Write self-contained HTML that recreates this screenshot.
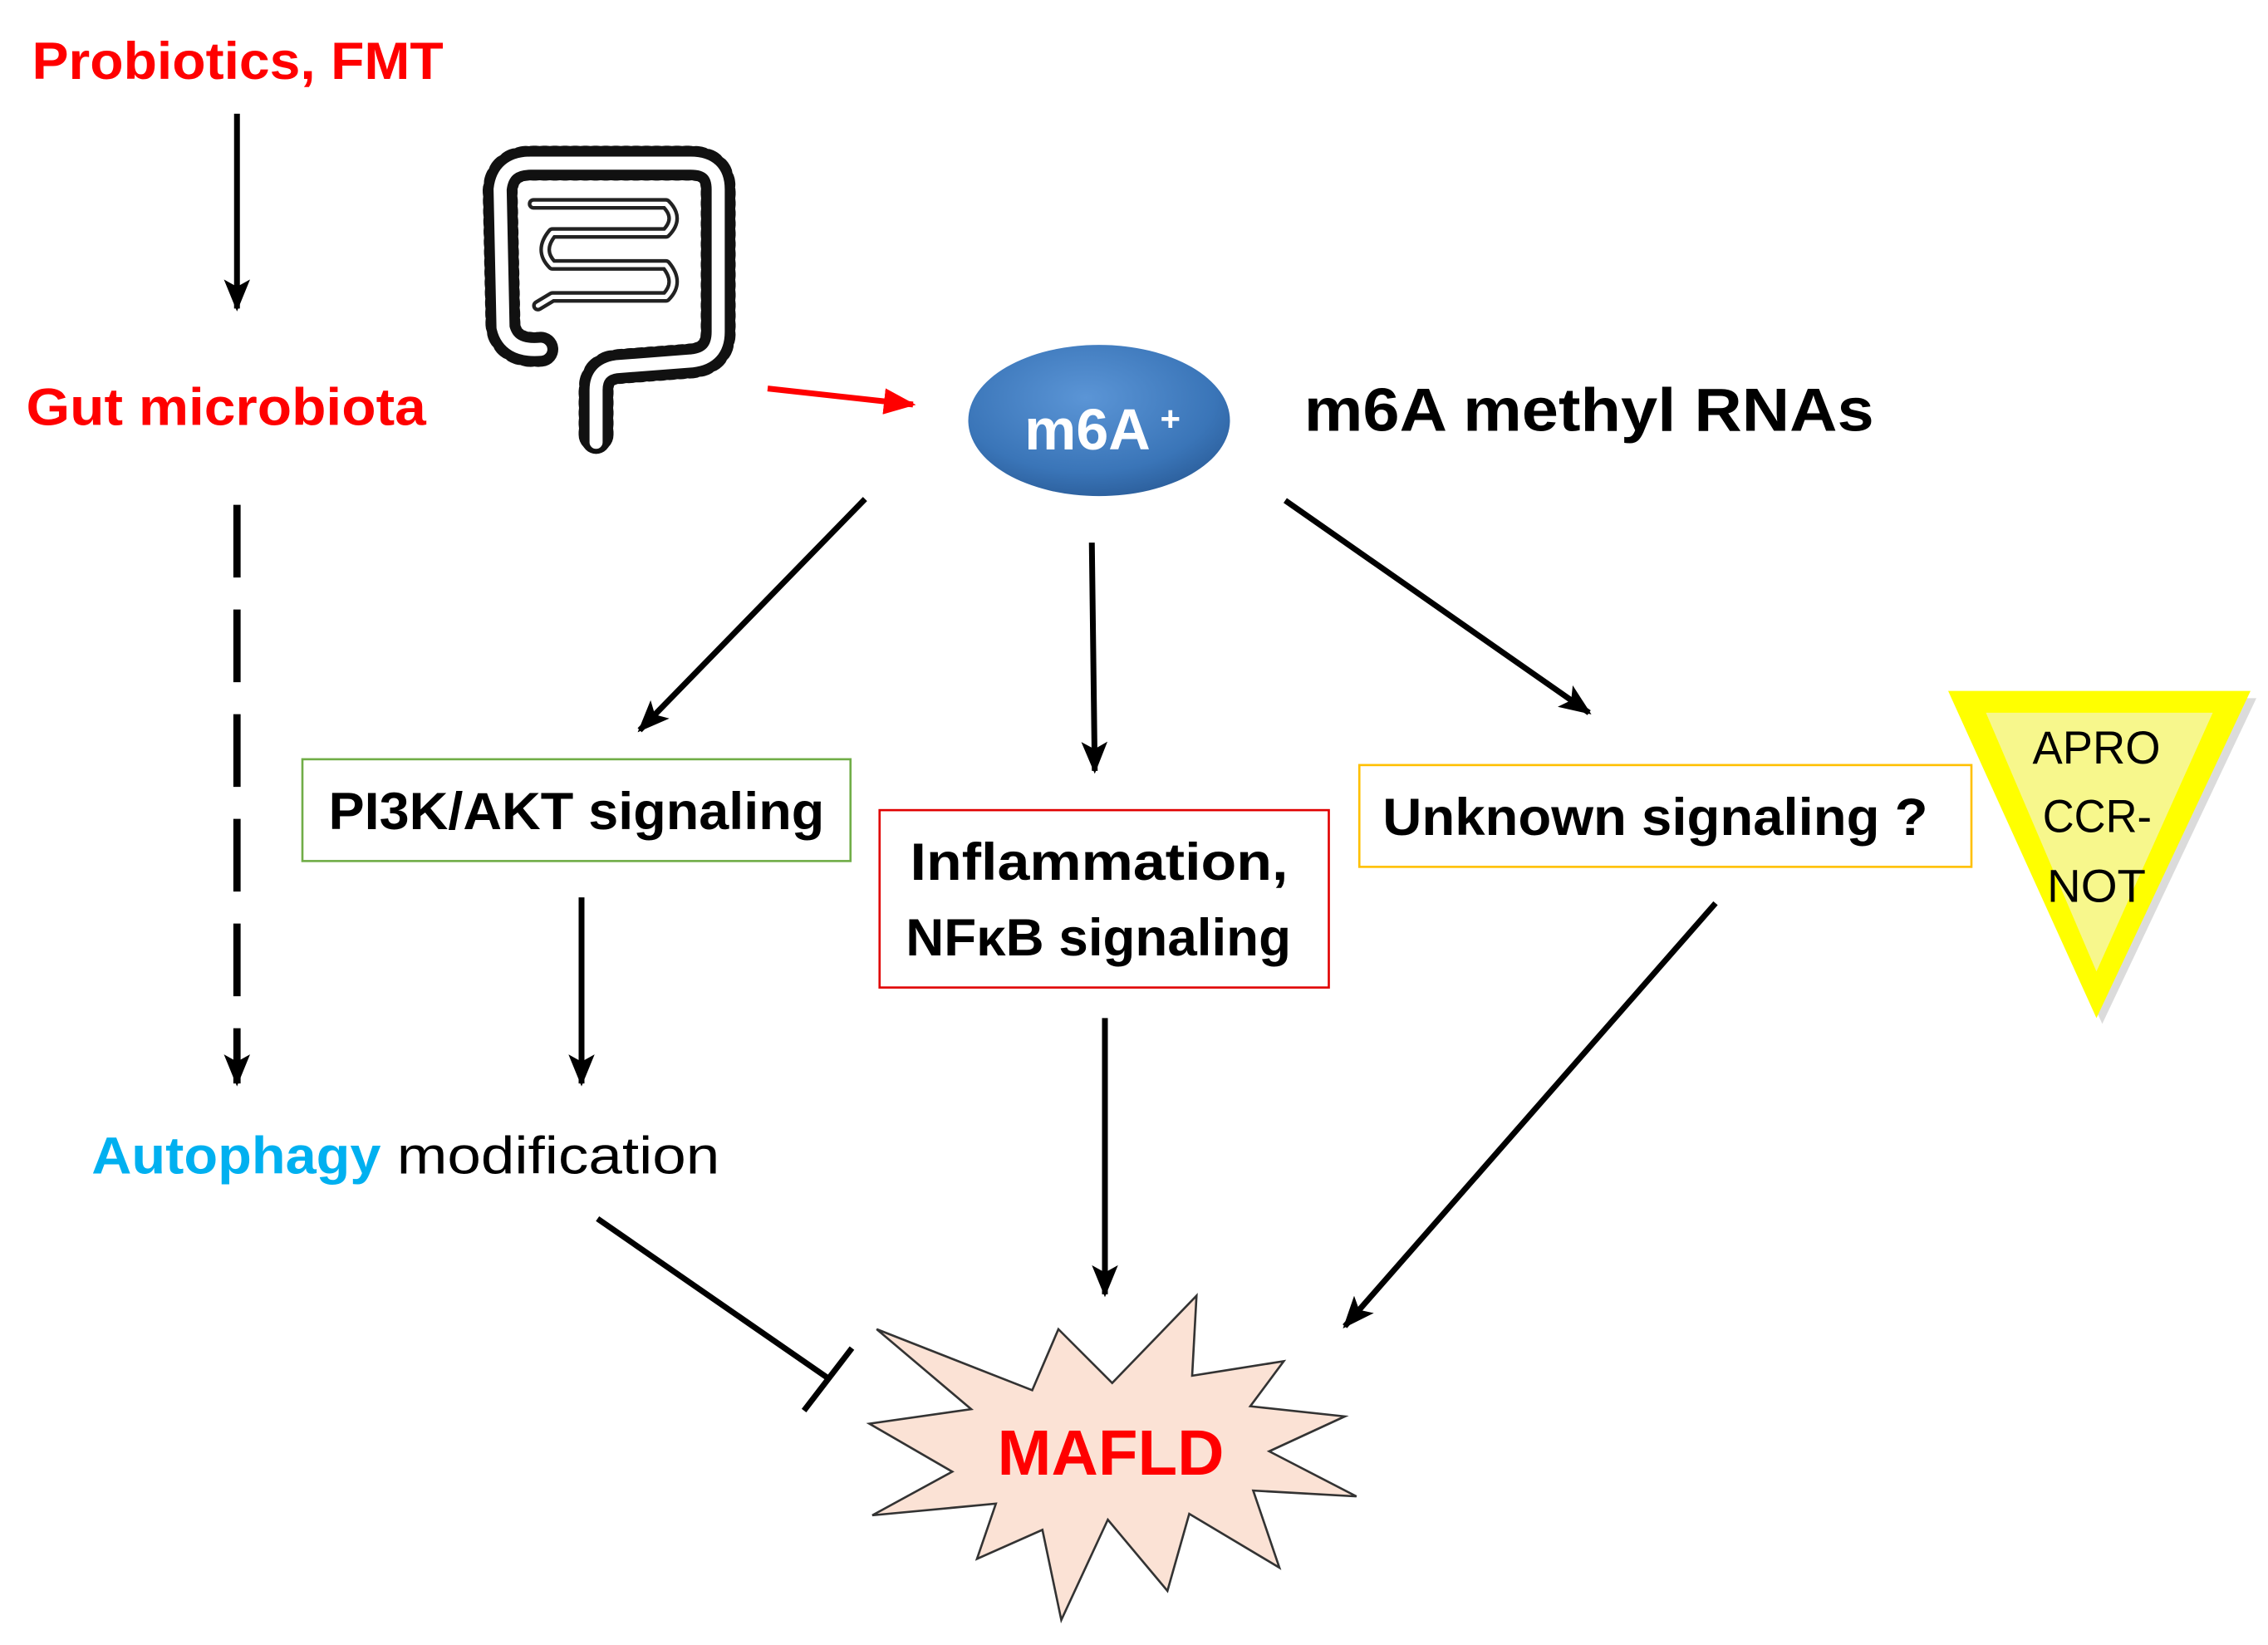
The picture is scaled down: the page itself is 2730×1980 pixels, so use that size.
<!DOCTYPE html>
<html><head><meta charset="utf-8"><style>html,body{margin:0;padding:0;background:#fff}svg{display:block}</style></head>
<body>
<svg width="2730" height="1980" viewBox="0 0 1560 1131" xmlns="http://www.w3.org/2000/svg" font-family="Liberation Sans, sans-serif">
<defs>
<marker id="ah" markerWidth="10" markerHeight="10" refX="8" refY="5" orient="auto" markerUnits="userSpaceOnUse"><path d="M0,0 L10,5 L0,10 Z" fill="#000"/></marker>
<marker id="ahb" markerWidth="22" markerHeight="18" refX="20" refY="9" orient="auto" markerUnits="userSpaceOnUse"><path d="M0,0 L22,9 L0,18 L5,9 Z" fill="#000"/></marker>
<marker id="ahr" markerWidth="22" markerHeight="18" refX="20" refY="9" orient="auto" markerUnits="userSpaceOnUse"><path d="M0,0 L22,9 L0,18 Z" fill="#f00"/></marker>
<radialGradient id="blue" cx="45%" cy="35%" r="70%"><stop offset="0" stop-color="#5b95d6"/><stop offset="0.7" stop-color="#3a75b8"/><stop offset="1" stop-color="#2a5c98"/></radialGradient>
</defs>
<rect width="1560" height="1131" fill="#fff"/>

<text x="22" y="54" font-size="36" font-weight="bold" fill="#f00" textLength="283" lengthAdjust="spacingAndGlyphs">Probiotics, FMT</text>
<line x1="163" y1="78" x2="163" y2="212" stroke="#000" stroke-width="4" marker-end="url(#ahb)"/>
<text x="18" y="292" font-size="36" font-weight="bold" fill="#f00" textLength="275" lengthAdjust="spacingAndGlyphs">Gut microbiota</text>

<!-- gut icon -->
<g fill="none" stroke-linejoin="round" stroke-linecap="round">
<path d="M372,240 Q350,242 346,225 L344,130 Q346,112 365,112 L475,112 Q494,112 494,130 L494,228 Q494,246 476,248 L424,252 Q410,254 410,268 L410,302" stroke="#111" stroke-width="24" stroke-dasharray="2 5"/>
<path d="M372,240 Q350,242 346,225 L344,130 Q346,112 365,112 L475,112 Q494,112 494,130 L494,228 Q494,246 476,248 L424,252 Q410,254 410,268 L410,302" stroke="#111" stroke-width="20"/>
<path d="M372,240 Q350,242 346,225 L344,130 Q346,112 365,112 L475,112 Q494,112 494,130 L494,228 Q494,246 476,248 L424,252 Q410,254 410,268 L410,304" stroke="#fff" stroke-width="9"/>
<path d="M367,140 L458,140 Q468,150 458,160 L380,160 Q370,172 380,182 L458,182 Q468,194 458,204 L380,204 L370,210" stroke="#222" stroke-width="8"/>
<path d="M367,140 L458,140 Q468,150 458,160 L380,160 Q370,172 380,182 L458,182 Q468,194 458,204 L380,204 L370,210" stroke="#fff" stroke-width="3"/>
</g>

<line x1="528" y1="267" x2="628" y2="278" stroke="#f00" stroke-width="4" marker-end="url(#ahr)"/>

<ellipse cx="756" cy="289" rx="90" ry="52" fill="url(#blue)"/>
<text x="748" y="309" font-size="40" font-weight="bold" fill="#fff" text-anchor="middle">m6A</text>
<text x="798" y="296" font-size="24" font-weight="bold" fill="#fff">+</text>
<text x="897" y="296" font-size="42" font-weight="bold" fill="#000" textLength="392" lengthAdjust="spacingAndGlyphs">m6A methyl RNAs</text>

<line x1="163" y1="347" x2="163" y2="745" stroke="#000" stroke-width="5" stroke-dasharray="50 22" marker-end="url(#ahb)"/>
<line x1="595" y1="343" x2="440" y2="502" stroke="#000" stroke-width="4" marker-end="url(#ahb)"/>
<line x1="751" y1="373" x2="753" y2="530" stroke="#000" stroke-width="4" marker-end="url(#ahb)"/>
<line x1="884" y1="344" x2="1093" y2="490" stroke="#000" stroke-width="4" marker-end="url(#ahb)"/>

<rect x="208" y="522" width="377" height="70" fill="#fff" stroke="#70ad47" stroke-width="1.5"/>
<text x="226" y="570" font-size="36" font-weight="bold" textLength="341" lengthAdjust="spacingAndGlyphs">PI3K/AKT signaling</text>
<rect x="605" y="557" width="309" height="122" fill="#fff" stroke="#e00000" stroke-width="1.5"/>
<text x="626" y="605" font-size="36" font-weight="bold" textLength="260" lengthAdjust="spacingAndGlyphs">Inflammation,</text>
<text x="623" y="657" font-size="36" font-weight="bold" textLength="265" lengthAdjust="spacingAndGlyphs">NFκB signaling</text>
<rect x="935" y="526" width="421" height="70" fill="#fff" stroke="#ffc000" stroke-width="1.5"/>
<text x="951" y="574" font-size="36" font-weight="bold" textLength="375" lengthAdjust="spacingAndGlyphs">Unknown signaling ?</text>

<polygon points="1344,480 1552,480 1446,704" fill="#999" opacity="0.35"/>
<polygon points="1340,475 1548,475 1442,700" fill="#ffff00"/>
<polygon points="1366,490 1522,490 1442,668" fill="#f7f78c"/>
<text x="1398" y="525" font-size="32" textLength="88" lengthAdjust="spacingAndGlyphs">APRO</text>
<text x="1405" y="572" font-size="32" textLength="75" lengthAdjust="spacingAndGlyphs">CCR-</text>
<text x="1408" y="620" font-size="32" textLength="68" lengthAdjust="spacingAndGlyphs">NOT</text>

<line x1="400" y1="617" x2="400" y2="745" stroke="#000" stroke-width="4" marker-end="url(#ahb)"/>
<text x="63" y="807" font-size="36" font-weight="bold" fill="#00b0f0" textLength="199" lengthAdjust="spacingAndGlyphs">Autophagy</text>
<text x="273" y="807" font-size="36" fill="#000" textLength="222" lengthAdjust="spacingAndGlyphs">modification</text>

<line x1="760" y1="700" x2="760" y2="890" stroke="#000" stroke-width="4" marker-end="url(#ahb)"/>
<line x1="1180" y1="621" x2="925" y2="912" stroke="#000" stroke-width="4" marker-end="url(#ahb)"/>
<line x1="411" y1="838" x2="570" y2="948" stroke="#000" stroke-width="4"/>
<line x1="553" y1="970" x2="586" y2="927" stroke="#000" stroke-width="4"/>

<polygon points="823,891 820,946 883,936 860,967 925,974 873,998 933,1029 862,1025 880,1078 818,1041 803,1094 762,1045 730,1114 717,1052 672,1072 685,1034 600,1042 655,1012 598,979 668,969 603,914 710,956 728,914 765,951" fill="#fbe2d5" stroke="#333" stroke-width="1.5"/>
<text x="686" y="1014" font-size="44" font-weight="bold" fill="#f00" textLength="156" lengthAdjust="spacingAndGlyphs">MAFLD</text>
</svg>
</body></html>
